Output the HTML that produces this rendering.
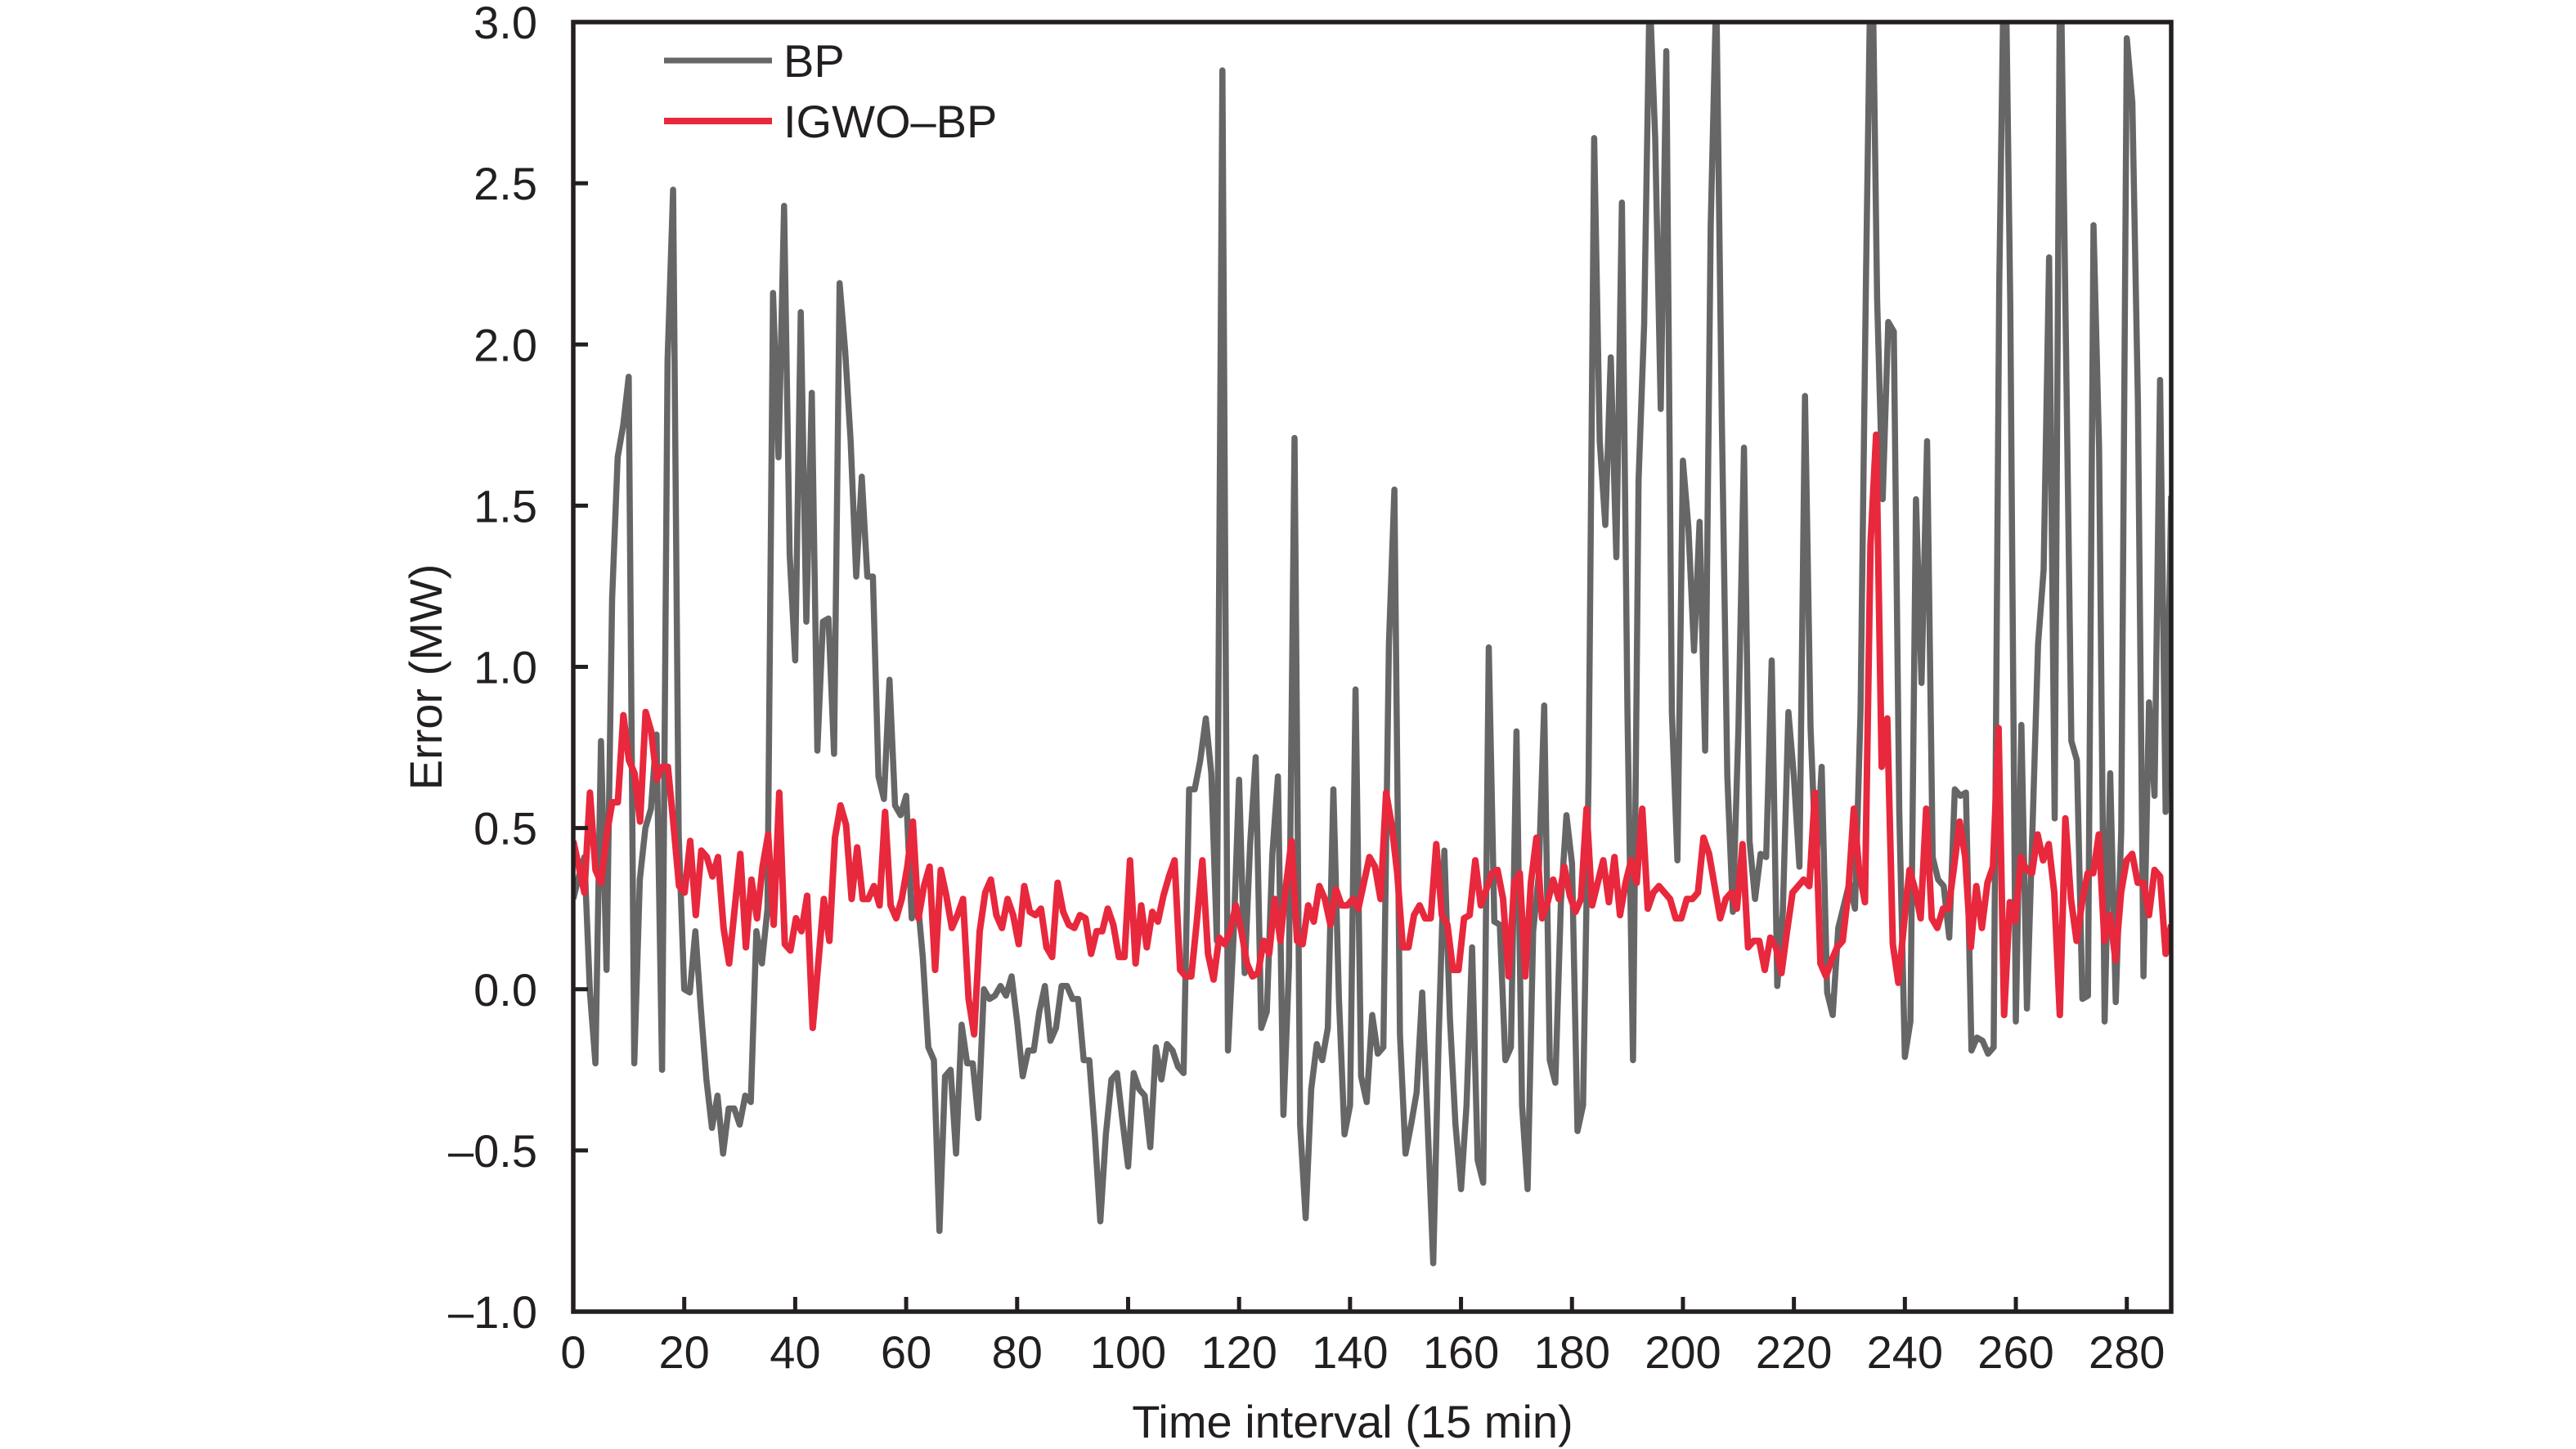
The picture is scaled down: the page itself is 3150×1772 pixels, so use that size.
<!DOCTYPE html>
<html><head><meta charset="utf-8">
<style>
html,body{margin:0;padding:0;background:#fff;}
svg{display:block;}
text{font-family:"Liberation Sans",Arial,sans-serif;fill:#231f20;}
</style></head>
<body>
<svg id="s" width="3150" height="1772" viewBox="0 0 3150 1772" xmlns="http://www.w3.org/2000/svg">
<defs><clipPath id="c"><rect x="701" y="27" width="1954" height="1577"/></clipPath></defs>
<g id="series" clip-path="url(#c)"></g>
<g id="axes"></g>
<line x1="812" y1="74" x2="944" y2="74" stroke="#666" stroke-width="7"/>
<line x1="812" y1="148" x2="944" y2="148" stroke="#e8283c" stroke-width="8"/>
<text x="958" y="94" font-size="56">BP</text>
<text x="958" y="168" font-size="56">IGWO–BP</text>
<text x="1654" y="1758" font-size="56" text-anchor="middle">Time interval (15 min)</text>
<text transform="translate(540,828) rotate(-90)" font-size="56" text-anchor="middle">Error (MW)</text>
</svg>
<script>
var L=701,R=2655,T=27,B=1604,NS="http://www.w3.org/2000/svg";
function X(i){return L+i*(R-L)/288;}
function Y(v){return B-(v+1)*(B-T)/4;}
var bp=[0.28,0.35,0.41,-0.01,-0.23,0.77,0.06,1.21,1.65,1.75,1.9,-0.23,0.34,0.5,0.56,0.79,-0.25,1.95,2.48,0.48,0.0,-0.01,0.18,-0.06,-0.28,-0.43,-0.33,-0.51,-0.37,-0.37,-0.42,-0.33,-0.35,0.18,0.08,0.25,2.16,1.65,2.43,1.35,1.02,2.1,1.14,1.85,0.74,1.14,1.15,0.73,2.19,1.98,1.7,1.28,1.59,1.28,1.28,0.66,0.59,0.96,0.57,0.54,0.6,0.22,0.29,0.1,-0.18,-0.22,-0.75,-0.27,-0.25,-0.51,-0.11,-0.23,-0.23,-0.4,0.0,-0.03,-0.02,0.01,-0.02,0.04,-0.1,-0.27,-0.19,-0.19,-0.07,0.01,-0.16,-0.12,0.01,0.01,-0.03,-0.03,-0.22,-0.22,-0.45,-0.72,-0.45,-0.28,-0.26,-0.41,-0.55,-0.26,-0.31,-0.33,-0.49,-0.18,-0.28,-0.17,-0.19,-0.24,-0.26,0.62,0.62,0.71,0.84,0.67,0.15,2.85,-0.19,0.16,0.65,0.05,0.45,0.72,-0.12,-0.07,0.42,0.66,-0.39,0.07,1.71,-0.42,-0.71,-0.31,-0.17,-0.22,-0.12,0.62,-0.03,-0.45,-0.36,0.93,-0.27,-0.35,-0.08,-0.2,-0.18,1.07,1.55,-0.14,-0.51,-0.42,-0.32,-0.01,-0.42,-0.85,-0.14,0.43,-0.09,-0.42,-0.62,-0.36,0.13,-0.53,-0.6,1.06,0.21,0.2,-0.22,-0.18,0.8,-0.36,-0.62,0.18,0.35,0.88,-0.22,-0.29,0.27,0.54,0.39,-0.44,-0.36,0.66,2.64,1.7,1.44,1.96,1.34,2.44,0.86,-0.22,1.58,2.06,3.1,2.64,1.8,2.91,0.86,0.4,1.64,1.43,1.05,1.45,0.74,2.37,3.1,1.78,0.66,0.24,0.81,1.68,0.46,0.28,0.42,0.41,1.02,0.01,0.24,0.86,0.66,0.38,1.84,0.81,0.38,0.69,-0.01,-0.08,0.19,0.26,0.33,0.25,0.86,2.21,3.4,2.14,1.52,2.07,2.04,0.55,-0.21,-0.1,1.52,0.95,1.7,0.41,0.34,0.32,0.16,0.62,0.6,0.61,-0.19,-0.15,-0.16,-0.2,-0.18,2.18,3.4,2.13,-0.1,0.82,-0.06,0.5,1.07,1.3,2.27,0.53,3.3,2.04,0.77,0.71,-0.03,-0.02,2.37,1.68,-0.1,0.67,-0.04,0.49,2.95,2.75,1.82,0.04,0.89,0.6,1.89,0.55,1.53];
var rd=[0.46,0.38,0.3,0.61,0.37,0.33,0.48,0.58,0.58,0.85,0.71,0.67,0.52,0.86,0.8,0.65,0.69,0.69,0.51,0.32,0.3,0.46,0.23,0.43,0.41,0.35,0.41,0.19,0.08,0.25,0.42,0.13,0.34,0.22,0.38,0.48,0.2,0.61,0.14,0.12,0.22,0.18,0.29,-0.12,0.08,0.28,0.15,0.47,0.57,0.51,0.28,0.44,0.28,0.28,0.32,0.26,0.55,0.26,0.22,0.28,0.38,0.52,0.22,0.32,0.38,0.06,0.37,0.29,0.19,0.23,0.28,-0.03,-0.14,0.18,0.3,0.34,0.23,0.19,0.28,0.23,0.14,0.32,0.24,0.23,0.25,0.13,0.1,0.33,0.24,0.2,0.19,0.23,0.22,0.11,0.18,0.18,0.25,0.2,0.1,0.1,0.4,0.08,0.26,0.13,0.24,0.21,0.29,0.35,0.4,0.06,0.04,0.04,0.21,0.4,0.11,0.03,0.16,0.14,0.18,0.26,0.18,0.08,0.04,0.05,0.15,0.11,0.28,0.15,0.32,0.46,0.15,0.14,0.26,0.21,0.32,0.28,0.2,0.31,0.26,0.26,0.28,0.25,0.33,0.41,0.38,0.28,0.61,0.51,0.36,0.13,0.13,0.23,0.26,0.22,0.22,0.45,0.23,0.2,0.06,0.06,0.22,0.23,0.4,0.26,0.31,0.36,0.37,0.28,0.04,0.33,0.36,0.04,0.33,0.47,0.22,0.27,0.34,0.28,0.38,0.29,0.24,0.28,0.56,0.26,0.33,0.4,0.27,0.41,0.23,0.33,0.4,0.33,0.56,0.25,0.3,0.32,0.3,0.28,0.22,0.22,0.28,0.28,0.3,0.47,0.42,0.32,0.22,0.28,0.3,0.25,0.45,0.13,0.15,0.15,0.06,0.16,0.13,0.05,0.18,0.3,0.32,0.34,0.32,0.61,0.08,0.04,0.09,0.13,0.15,0.3,0.56,0.36,0.27,1.38,1.72,0.69,0.84,0.14,0.02,0.2,0.37,0.31,0.22,0.56,0.22,0.19,0.25,0.25,0.38,0.52,0.41,0.13,0.32,0.19,0.33,0.38,0.81,-0.08,0.27,0.21,0.41,0.37,0.36,0.48,0.4,0.45,0.3,-0.08,0.53,0.28,0.15,0.27,0.36,0.36,0.48,0.15,0.23,0.09,0.3,0.4,0.42,0.33,0.33,0.23,0.37,0.35,0.11,0.2];
function poly(d,col,w){var p=[];var n=d.length;for(var i=0;i<n;i++){p.push(X(i*288/(n-1)).toFixed(1)+","+Y(d[i]).toFixed(1));}
var e=document.createElementNS(NS,"polyline");e.setAttribute("points",p.join(" "));e.setAttribute("fill","none");e.setAttribute("stroke",col);e.setAttribute("stroke-width",w);e.setAttribute("stroke-linejoin","round");document.getElementById("series").appendChild(e);}
poly(bp,"#666666",7.5);poly(rd,"#e8283c",8);
var ax=document.getElementById("axes"),h="";
h+='<rect x="'+L+'" y="'+T+'" width="'+(R-L)+'" height="'+(B-T)+'" fill="none" stroke="#231f20" stroke-width="5.5"/>';
for(var k=0;k<=280;k+=20){var x=X(k);h+='<line x1="'+x+'" y1="'+B+'" x2="'+x+'" y2="'+(B-18)+'" stroke="#231f20" stroke-width="5"/>';h+='<text x="'+x+'" y="1673" font-size="56" text-anchor="middle">'+k+'</text>';}
var labs=["–1.0","–0.5","0.0","0.5","1.0","1.5","2.0","2.5","3.0"];
for(var j=0;j<9;j++){var v=-1+j*0.5,y=Y(v);h+='<line x1="'+L+'" y1="'+y+'" x2="'+(L+18)+'" y2="'+y+'" stroke="#231f20" stroke-width="5"/>';h+='<text x="657" y="'+(y+20)+'" font-size="56" text-anchor="end">'+labs[j]+'</text>';}
ax.innerHTML=h;
</script>
</body></html>
